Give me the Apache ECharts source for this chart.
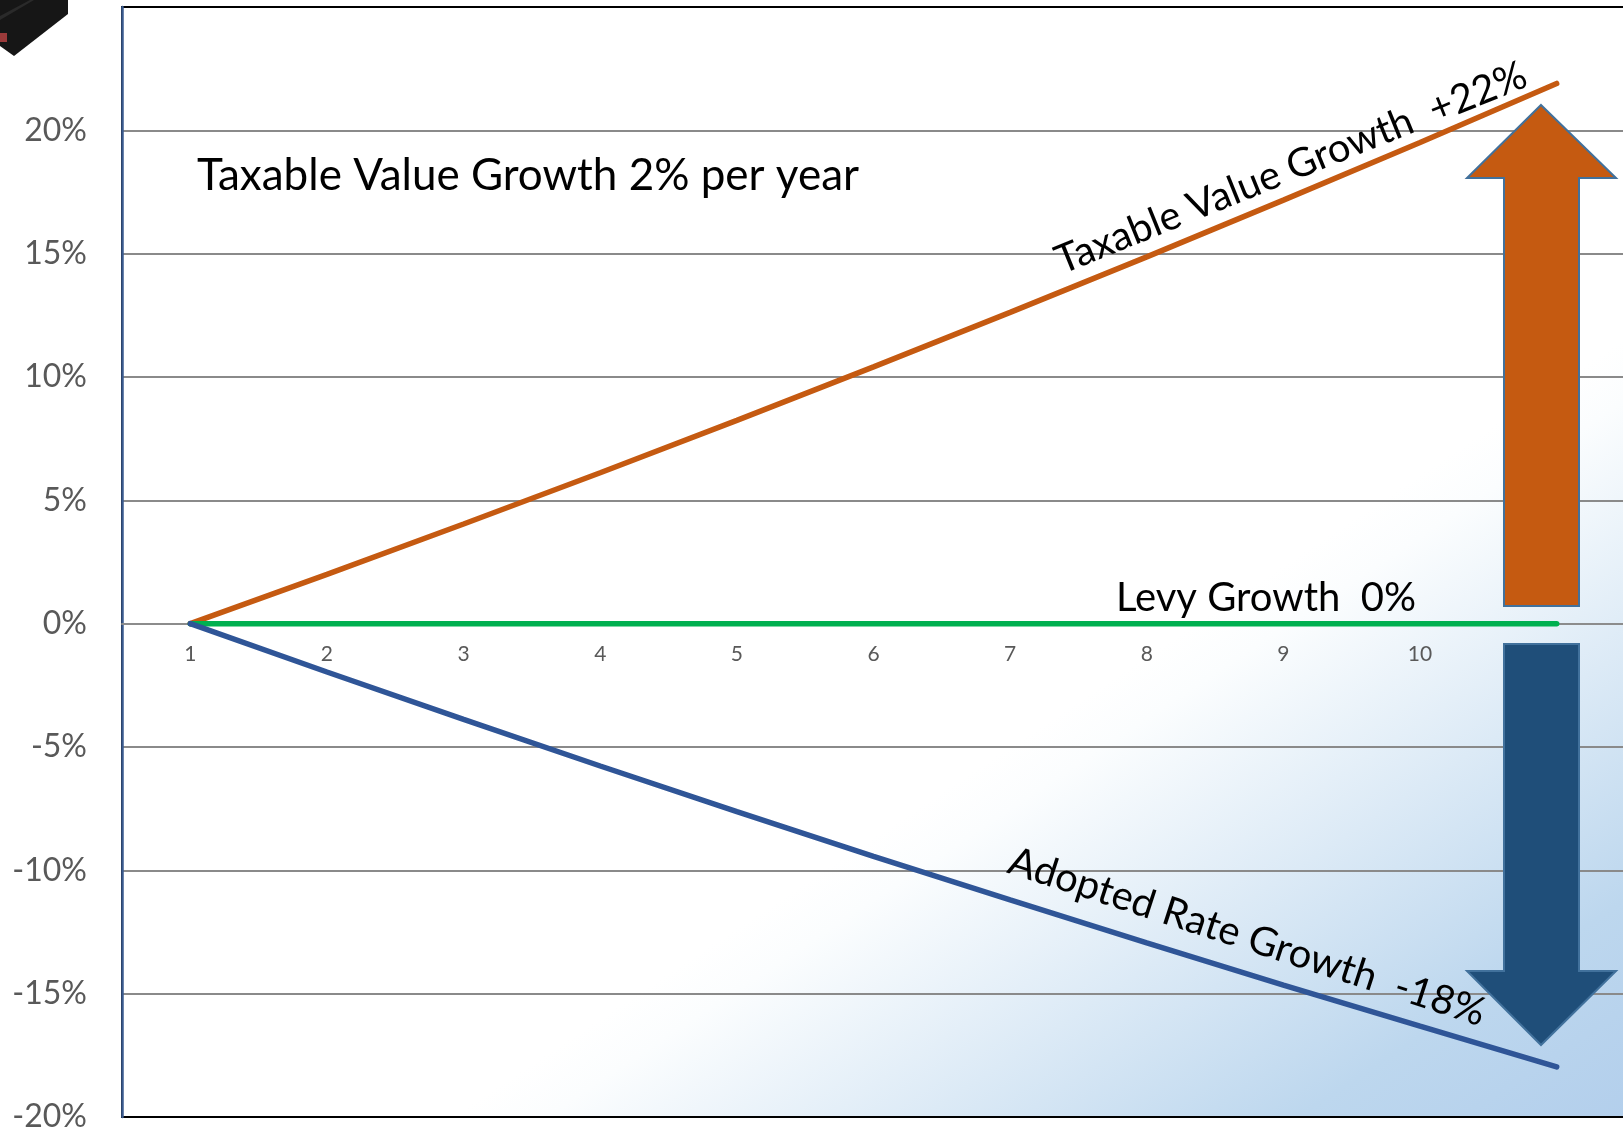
<!DOCTYPE html>
<html><head><meta charset="utf-8">
<script src="https://cdn.jsdelivr.net/npm/echarts@6/dist/echarts.min.js"></script>
<style>html,body{margin:0;padding:0;background:#fff}#c{width:1623px;height:1130px}</style>
</head><body><div id="c"></div>
<script>
// ---- data ----
const categories = ['1','2','3','4','5','6','7','8','9','10','11'];
const taxableValueGrowth = [0, 2.0, 4.04, 6.12, 8.24, 10.41, 12.62, 14.87, 17.17, 19.51, 21.9];
const levyGrowth = [0, 0, 0, 0, 0, 0, 0, 0, 0, 0, 0];
const adoptedRateGrowth = [0, -1.96, -3.88, -5.77, -7.62, -9.43, -11.2, -12.94, -14.65, -16.32, -17.97];
const yMin = -20, yMax = 25, yStep = 5;
const hiddenYTick = 25;
const hiddenXTick = '11';

// ---- layout ----
const GRID_LEFT = 122, GRID_TOP = 7, GRID_HEIGHT = 1110;
const zeroOffset = -GRID_HEIGHT * (0 - yMin) / (yMax - yMin); // move category axis up to the 0 line

const FONT = 'Lato, "Open Sans", sans-serif';
const chart = echarts.init(document.getElementById('c'), null, {renderer: 'canvas'});

const bgGradient = {
  type: 'linear', global: true,
  x: 654, y: 983, x2: 1013, y2: 1524,
  colorStops: [
    {offset: 0, color: '#ffffff'},
    {offset: 0.08, color: '#fbfdfe'},
    {offset: 0.72, color: '#BDD7EE'},
    {offset: 1, color: '#B3CFEC'}
  ]
};

function upArrow() {
  return [[1541,105],[1616,178],[1579,178],[1579,606],[1504,606],[1504,178],[1467,178]];
}
function downArrow() {
  return [[1504,644],[1579,644],[1579,971],[1616,971],[1541,1045],[1467,971],[1504,971]];
}

chart.setOption({
  animation: false,
  backgroundColor: '#ffffff',
  grid: {
    left: GRID_LEFT, top: GRID_TOP, right: -2, height: GRID_HEIGHT,
    outerBoundsMode: 'none', containLabel: false,
    show: true, borderColor: '#000000', borderWidth: 2,
    backgroundColor: bgGradient
  },
  xAxis: {
    type: 'category', data: categories, boundaryGap: true,
    position: 'bottom', offset: zeroOffset,
    axisLine: {show: true, onZero: false, lineStyle: {color: '#8c8c8c', width: 2}},
    axisTick: {show: false},
    axisLabel: {
      interval: 0, margin: 20, fontSize: 21, color: '#595959', fontFamily: FONT,
      formatter: v => (v === hiddenXTick ? '' : v)
    },
    splitLine: {show: false}
  },
  yAxis: {
    type: 'value', min: yMin, max: yMax, interval: yStep,
    axisLine: {show: true, onZero: false, lineStyle: {color: '#3B5B8F', width: 2.5}},
    axisTick: {show: false},
    axisLabel: {
      margin: 35, fontSize: 32, color: '#595959', fontFamily: FONT,
      formatter: v => (v === hiddenYTick ? '' : v + '%')
    },
    splitLine: {show: true, showMaxLine: false, showMinLine: false, lineStyle: {color: '#8a8a8a', width: 2}}
  },
  series: [
    {name: 'Taxable Value Growth', type: 'line', data: taxableValueGrowth, symbol: 'none',
     lineStyle: {color: '#C55A11', width: 5.5, cap: 'round'}},
    {name: 'Levy Growth', type: 'line', data: levyGrowth, symbol: 'none',
     lineStyle: {color: '#00B050', width: 5.5, cap: 'round'}},
    {name: 'Adopted Rate Growth', type: 'line', data: adoptedRateGrowth, symbol: 'none',
     lineStyle: {color: '#2F5597', width: 5.5, cap: 'round'}}
  ],
  graphic: [
    // partial picture at top-left corner
    {type: 'polygon', z: 100, shape: {points: [[0,0],[68,0],[68,14],[14,56],[0,46]]},
     style: {fill: '#161616'}},
    {type: 'polygon', z: 101, shape: {points: [[0,16],[30,0],[34,0],[0,20]]},
     style: {fill: '#2a2a2a'}},
    {type: 'rect', z: 101, shape: {x: 0, y: 33, width: 7, height: 9}, style: {fill: '#9b3a3a'}},
    // annotations
    {type: 'text', z: 100, x: 197, y: 176,
     style: {text: 'Taxable Value Growth 2% per year', fontSize: 44, fontFamily: FONT, fill: '#000',
             textAlign: 'left', textVerticalAlign: 'middle'}},
    {type: 'text', z: 100, x: 1266, y: 598,
     style: {text: 'Levy Growth  0%', fontSize: 40, fontFamily: FONT, fill: '#000',
             textAlign: 'center', textVerticalAlign: 'middle'}},
    {type: 'text', z: 100, x: 1291, y: 168, rotation: 22 * Math.PI / 180,
     style: {text: 'Taxable Value Growth  +22%', fontSize: 40, fontFamily: FONT, fill: '#000',
             textAlign: 'center', textVerticalAlign: 'middle'}},
    {type: 'text', z: 100, x: 1247, y: 937, rotation: -18 * Math.PI / 180,
     style: {text: 'Adopted Rate Growth  -18%', fontSize: 40, fontFamily: FONT, fill: '#000',
             textAlign: 'center', textVerticalAlign: 'middle'}},
    // arrows
    {type: 'polygon', z: 100, shape: {points: upArrow()},
     style: {fill: '#C55A11', stroke: '#41719C', lineWidth: 2}},
    {type: 'polygon', z: 100, shape: {points: downArrow()},
     style: {fill: '#1F4E79', stroke: '#41719C', lineWidth: 2}}
  ]
});
</script>
</body></html>
